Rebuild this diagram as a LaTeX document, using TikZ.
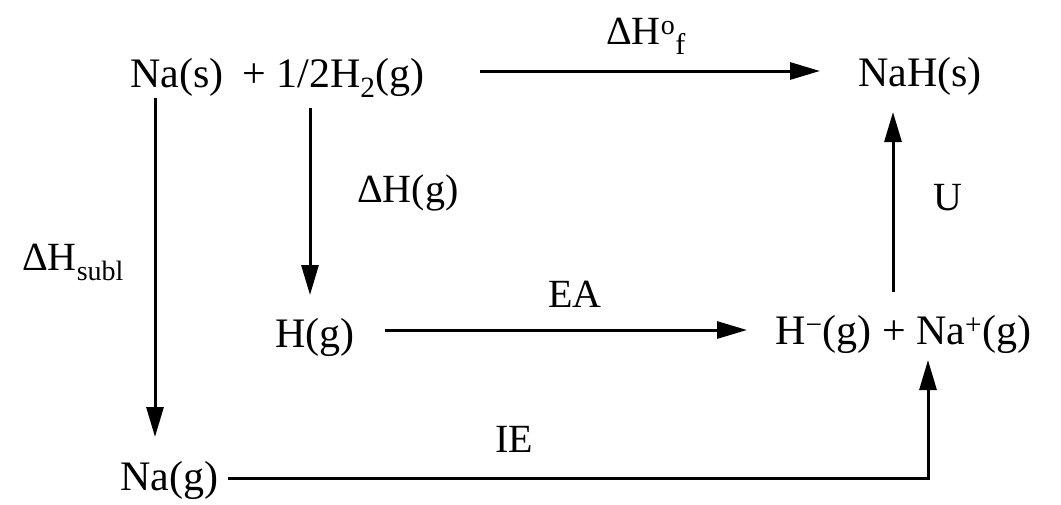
\documentclass[tikz,border=0pt]{standalone}
\usepackage{fontspec}
\setmainfont{Liberation Serif}
\usetikzlibrary{arrows.meta}
\begin{document}
\begin{tikzpicture}[x=1pt,y=-1pt,
  txt/.style={font=\fontsize{42}{48}\selectfont, inner sep=0pt, anchor=base west},
  lbl/.style={font=\fontsize{40}{46}\selectfont, inner sep=0pt, anchor=base west},
  arr/.style={line width=3pt, -{Triangle[length=30pt,width=17pt]}}]
\path[use as bounding box, fill=white] (0,0) rectangle (1061,504);
% species
\node[txt] (nas) at (130,87) {Na(s)};
\node[txt] (h2) at (242,87) {+ 1/2H\textsubscript{2}(g)};
\node[txt] (nah) at (858,86) {NaH(s)};
\node[txt] (hg) at (275,347) {H(g)};
\node[txt] (ions) at (775,344) {H\textsuperscript{−}(g) + Na\textsuperscript{+}(g)};
\node[txt] (nag) at (120,490) {Na(g)};
% labels
\node[lbl] (lf) at (606,44) {ΔH\textsuperscript{o}\raisebox{-0.25em}{\fontsize{30}{34}\selectfont f}};
\node[lbl] (lg) at (357,202) {ΔH(g)};
\node[lbl] (lea) at (548,307) {EA};
\node[lbl] (lu) at (933,210) {U};
\node[lbl] (ls) at (22,270) {ΔH\textsubscript{subl}};
\node[lbl] (lie) at (495,452) {IE};
% connector end points
\coordinate (a1) at (480,71);  \coordinate (a2) at (820,71);
\coordinate (b1) at (155,98);  \coordinate (b2) at (155,437);
\coordinate (c1) at (310,108); \coordinate (c2) at (310,295);
\coordinate (d1) at (385,330); \coordinate (d2) at (747,330);
\coordinate (e1) at (893,292); \coordinate (e2) at (893,112);
\coordinate (f1) at (228,478); \coordinate (f2) at (928,360);
% connectors
\draw[arr] (a1) -- (a2);
\draw[arr] (b1) -- (b2);
\draw[arr] (c1) -- (c2);
\draw[arr] (d1) -- (d2);
\draw[arr] (e1) -- (e2);
\draw[arr] (f1) -| (f2);
\end{tikzpicture}
\end{document}
